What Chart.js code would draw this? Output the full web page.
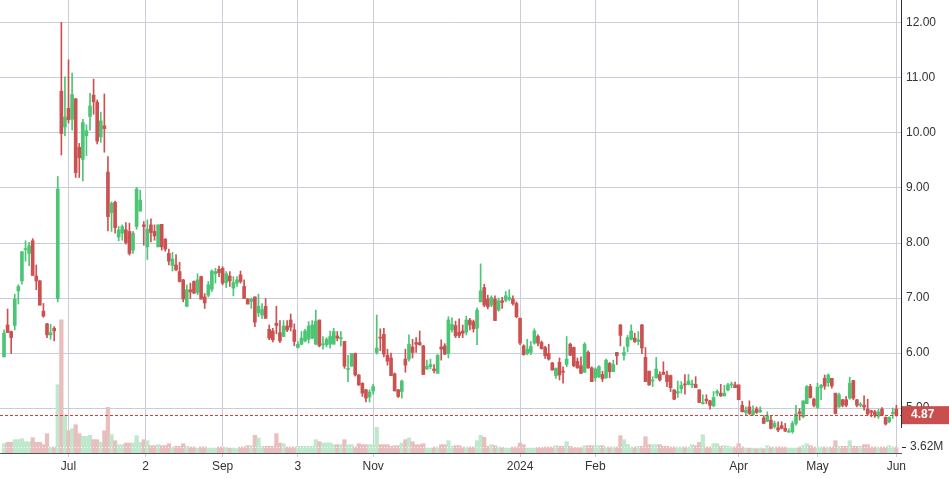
<!DOCTYPE html>
<html>
<head>
<meta charset="utf-8">
<script src="https://cdn.jsdelivr.net/npm/chart.js@4.4.1/dist/chart.umd.min.js"></script>
<style>
  html, body { margin: 0; padding: 0; background: #fff; }
  #caja { width: 949px; height: 479px; }
</style>
</head>
<body>
<div id="caja"><canvas id="grafico"></canvas></div>
<script>
// daily candles, Jun 2023 - Jun 2024
const opens = [
  5.93, 6.51, 6.39, 6.50, 7.13, 7.31, 7.88, 7.81, 8.04, 7.40, 7.31, 6.76, 6.53, 6.33, 6.45, 6.99, 10.76, 10.11, 10.45, 10.25,
  10.62, 9.74, 9.52, 9.95, 10.30, 10.69, 10.56, 9.93, 10.13, 9.29, 8.55, 8.74, 8.11, 8.18, 8.24, 8.21, 7.87, 8.30, 8.58, 8.33,
  7.93, 8.33, 8.21, 7.93, 8.34, 8.07, 7.81, 7.59, 7.60, 7.48, 7.33, 6.85, 7.15, 7.30, 7.10, 7.39, 7.02, 7.05, 7.16, 7.44,
  7.52, 7.54, 7.28, 7.40, 7.18, 7.27, 7.42, 7.21, 6.98, 6.94, 7.02, 6.73, 6.69, 6.85, 6.43, 6.40, 6.54, 6.37, 6.30, 6.49,
  6.60, 6.42, 6.10, 6.16, 6.22, 6.25, 6.27, 6.16, 6.60, 6.15, 6.15, 6.16, 6.16, 6.31, 6.26, 6.21, 5.70, 5.76, 5.99, 5.60,
  5.45, 5.33, 5.20, 5.31, 6.01, 6.29, 6.34, 5.96, 5.91, 5.62, 5.33, 5.30, 5.89, 5.89, 6.11, 6.19, 6.19, 6.13, 5.71, 5.75,
  5.71, 5.63, 6.11, 6.13, 5.99, 6.42, 6.50, 6.38, 6.40, 6.38, 6.60, 6.57, 6.45, 6.93, 7.19, 6.98, 6.87, 6.98, 6.78, 6.95,
  6.96, 6.98, 6.98, 6.90, 6.63, 6.13, 5.99, 6.01, 6.18, 6.30, 6.19, 6.10, 5.99, 5.82, 5.59, 5.83, 5.67, 5.79, 6.16, 6.10,
  5.85, 5.77, 5.65, 6.01, 5.73, 5.55, 5.57, 5.61, 5.55, 5.81, 5.66, 6.01, 6.51, 5.96, 6.12, 6.25, 6.27, 6.21, 6.51, 5.92,
  5.67, 5.49, 5.55, 5.61, 5.65, 5.60, 5.59, 5.33, 5.27, 5.35, 5.43, 5.43, 5.42, 5.43, 5.33, 5.08, 5.16, 5.13, 5.04, 5.27,
  5.27, 5.22, 5.33, 5.42, 5.42, 5.42, 5.05, 4.92, 5.02, 4.88, 4.98, 4.93, 4.82, 4.76, 4.78, 4.66, 4.64, 4.68, 4.63, 4.56,
  4.57, 4.72, 4.93, 4.84, 5.08, 5.39, 5.16, 5.01, 5.37, 5.54, 5.46, 5.54, 5.27, 5.02, 5.15, 5.15, 5.18, 5.50, 5.15, 5.05,
  5.05, 4.98, 4.95, 4.93, 4.85, 4.98, 4.83, 4.75, 4.90, 4.98
];
const highs = [
  6.42, 6.80, 6.40, 7.07, 7.24, 7.85, 8.04, 8.01, 8.08, 7.60, 7.32, 6.90, 6.54, 6.52, 6.48, 9.21, 12.01, 11.02, 11.33, 11.09,
  10.63, 9.81, 10.25, 10.15, 10.72, 10.98, 10.60, 10.38, 10.71, 9.57, 8.75, 8.76, 8.30, 8.33, 8.37, 8.36, 8.21, 9.01, 8.96, 8.39,
  8.42, 8.44, 8.33, 8.33, 8.34, 8.08, 7.89, 7.83, 7.79, 7.65, 7.34, 7.24, 7.27, 7.31, 7.44, 7.40, 7.08, 7.30, 7.51, 7.54,
  7.58, 7.57, 7.48, 7.48, 7.39, 7.39, 7.49, 7.33, 6.99, 7.00, 7.02, 7.07, 6.90, 6.99, 6.51, 6.45, 6.85, 6.59, 6.59, 6.59,
  6.71, 6.53, 6.21, 6.39, 6.43, 6.57, 6.59, 6.78, 6.60, 6.30, 6.28, 6.40, 6.45, 6.39, 6.39, 6.21, 5.96, 5.99, 6.00, 5.61,
  5.46, 5.34, 5.33, 5.43, 6.69, 6.44, 6.45, 6.07, 6.00, 5.64, 5.34, 5.51, 6.07, 6.33, 6.25, 6.28, 6.40, 6.14, 5.87, 5.89,
  5.79, 5.97, 6.24, 6.17, 6.66, 6.64, 6.58, 6.62, 6.51, 6.67, 6.63, 6.60, 6.82, 7.62, 7.25, 7.05, 7.04, 7.04, 7.00, 7.01,
  7.12, 7.15, 7.04, 6.93, 6.64, 6.15, 6.25, 6.21, 6.44, 6.33, 6.22, 6.12, 6.16, 5.83, 5.73, 5.91, 5.75, 6.30, 6.18, 6.11,
  5.91, 5.93, 6.19, 6.04, 5.75, 5.73, 5.77, 5.67, 5.89, 5.83, 5.87, 6.01, 6.52, 6.11, 6.32, 6.51, 6.36, 6.39, 6.52, 6.10,
  5.67, 5.57, 5.92, 5.66, 5.84, 5.67, 5.60, 5.33, 5.49, 5.48, 5.61, 5.61, 5.51, 5.57, 5.33, 5.24, 5.24, 5.14, 5.30, 5.33,
  5.43, 5.41, 5.45, 5.47, 5.47, 5.42, 5.12, 5.02, 5.13, 5.04, 5.02, 5.02, 4.86, 4.93, 4.86, 4.76, 4.75, 4.75, 4.72, 4.62,
  4.76, 5.05, 4.99, 5.13, 5.41, 5.43, 5.18, 5.45, 5.43, 5.60, 5.62, 5.54, 5.27, 5.27, 5.16, 5.21, 5.56, 5.50, 5.16, 5.10,
  5.22, 5.16, 4.96, 4.96, 4.98, 5.01, 4.84, 4.84, 5.00, 5.05
];
const lows = [
  5.93, 6.37, 5.99, 6.42, 6.89, 7.25, 7.67, 7.59, 7.41, 7.15, 6.87, 6.65, 6.28, 6.25, 6.22, 6.93, 9.60, 9.95, 10.18, 10.05,
  9.19, 9.19, 9.13, 9.59, 10.05, 10.34, 9.80, 9.83, 9.65, 8.22, 8.21, 8.18, 8.04, 8.05, 7.98, 7.78, 7.81, 8.25, 8.58, 7.96,
  7.70, 8.02, 8.05, 7.93, 7.87, 7.85, 7.60, 7.49, 7.50, 7.29, 6.93, 6.84, 6.99, 7.08, 7.06, 6.98, 6.81, 7.02, 7.12, 7.27,
  7.39, 7.24, 7.19, 7.21, 7.04, 7.21, 7.27, 6.99, 6.89, 6.81, 6.48, 6.66, 6.63, 6.63, 6.24, 6.20, 6.35, 6.19, 6.30, 6.39,
  6.40, 6.13, 6.09, 6.15, 6.20, 6.18, 6.26, 6.15, 6.11, 6.07, 6.11, 6.09, 6.16, 6.22, 6.13, 5.72, 5.48, 5.76, 5.58, 5.41,
  5.21, 5.11, 5.11, 5.25, 5.98, 6.04, 5.93, 5.78, 5.59, 5.31, 5.19, 5.18, 5.65, 5.85, 5.91, 6.01, 6.14, 5.61, 5.70, 5.71,
  5.64, 5.63, 5.87, 5.97, 5.91, 6.38, 6.28, 6.28, 6.28, 6.33, 6.42, 6.38, 6.15, 6.93, 6.84, 6.80, 6.84, 6.59, 6.76, 6.81,
  6.93, 6.95, 6.87, 6.64, 6.15, 5.96, 5.97, 5.97, 6.16, 6.13, 6.07, 5.90, 5.87, 5.69, 5.54, 5.51, 5.45, 5.75, 5.95, 5.75,
  5.72, 5.63, 5.65, 5.72, 5.48, 5.49, 5.55, 5.48, 5.54, 5.55, 5.66, 5.79, 6.13, 5.87, 6.02, 6.24, 6.19, 6.15, 5.99, 5.48,
  5.41, 5.39, 5.54, 5.49, 5.61, 5.39, 5.30, 5.15, 5.19, 5.27, 5.25, 5.42, 5.37, 5.37, 5.10, 5.07, 5.08, 4.98, 5.02, 5.22,
  5.21, 5.22, 5.31, 5.37, 5.37, 5.15, 4.93, 4.88, 4.88, 4.86, 4.90, 4.92, 4.72, 4.75, 4.62, 4.63, 4.57, 4.62, 4.57, 4.56,
  4.54, 4.69, 4.78, 4.82, 5.08, 5.18, 5.02, 4.99, 5.15, 5.34, 5.39, 5.36, 4.89, 5.01, 5.02, 5.02, 5.16, 5.15, 5.02, 5.02,
  4.96, 4.87, 4.84, 4.83, 4.81, 4.87, 4.69, 4.73, 4.81, 4.85
];
const closes = [
  6.36, 6.37, 6.28, 6.98, 7.21, 7.84, 7.89, 7.95, 7.41, 7.31, 6.87, 6.67, 6.33, 6.37, 6.40, 8.98, 9.99, 10.29, 10.24, 10.70,
  9.28, 9.55, 10.19, 10.04, 10.49, 10.57, 9.85, 10.22, 10.08, 8.48, 8.72, 8.28, 8.24, 8.30, 8.01, 7.81, 8.18, 8.98, 8.78, 8.30,
  8.25, 8.19, 8.13, 8.33, 7.93, 7.89, 7.67, 7.71, 7.51, 7.30, 6.98, 7.15, 7.11, 7.09, 7.33, 6.98, 6.91, 7.24, 7.49, 7.48,
  7.46, 7.27, 7.44, 7.31, 7.28, 7.33, 7.30, 6.99, 6.89, 6.98, 6.56, 6.85, 6.79, 6.63, 6.27, 6.24, 6.50, 6.22, 6.49, 6.42,
  6.47, 6.21, 6.16, 6.27, 6.40, 6.49, 6.51, 6.58, 6.13, 6.16, 6.25, 6.30, 6.39, 6.27, 6.28, 5.76, 5.71, 5.99, 5.60, 5.42,
  5.27, 5.18, 5.29, 5.39, 6.09, 6.27, 5.98, 5.85, 5.59, 5.31, 5.21, 5.49, 5.78, 6.16, 6.01, 6.16, 6.15, 5.61, 5.76, 5.79,
  5.68, 5.96, 6.07, 5.98, 6.60, 6.52, 6.31, 6.32, 6.36, 6.60, 6.51, 6.44, 6.78, 7.13, 6.87, 6.84, 7.01, 6.59, 6.95, 6.92,
  7.04, 7.01, 6.90, 6.66, 6.18, 5.97, 6.07, 6.12, 6.40, 6.18, 6.08, 5.95, 5.89, 5.69, 5.72, 5.60, 5.65, 5.89, 5.96, 5.77,
  5.73, 5.63, 6.16, 5.73, 5.48, 5.71, 5.75, 5.53, 5.87, 5.66, 5.79, 5.95, 6.32, 6.01, 6.28, 6.40, 6.21, 6.24, 6.09, 5.48,
  5.42, 5.51, 5.71, 5.51, 5.61, 5.48, 5.37, 5.16, 5.30, 5.41, 5.42, 5.49, 5.43, 5.37, 5.10, 5.10, 5.13, 5.05, 5.19, 5.30,
  5.22, 5.27, 5.42, 5.43, 5.37, 5.15, 4.93, 4.96, 4.90, 4.95, 4.92, 4.96, 4.72, 4.86, 4.63, 4.72, 4.60, 4.63, 4.58, 4.57,
  4.72, 4.89, 4.90, 5.13, 5.39, 5.19, 5.05, 5.38, 5.41, 5.40, 5.60, 5.40, 4.90, 5.24, 5.05, 5.05, 5.45, 5.18, 5.05, 5.07,
  5.02, 4.89, 4.92, 4.87, 4.93, 4.87, 4.71, 4.83, 4.92, 4.87
];
// volume in millions
const volumes = [
  5.6, 6.4, 6.4, 8.0, 8.0, 8.6, 6.8, 6.8, 9.2, 6.4, 6.4, 5.0, 11.6, 3.6, 3.6, 41, 80, 23, 13.4, 14.6,
  17, 11.6, 10, 10, 10.6, 8, 8, 6.4, 13.4, 27.4, 11, 7.4, 5, 5, 6, 6, 6, 10.4, 6.4, 8,
  7.4, 4.4, 4.4, 5, 4.4, 4.4, 5.6, 3.6, 4.0, 4.0, 5.6, 4.0, 3.6, 3.6, 3.0, 3.6, 3.6, 3.0, 3.0, 3.0,
  3.6, 3.6, 3.3, 3.0, 3.0, 2.6, 3.6, 3.6, 4.4, 4.4, 10.6, 9.0, 4.0, 4.0, 4.0, 4.0, 11.6, 6.0, 5.6, 3.6,
  3.6, 3.6, 4.0, 4.0, 4.0, 4.0, 4.0, 8.0, 6.8, 6.0, 6.0, 6.0, 5.0, 5.0, 5.0, 8.0, 5.0, 5.0, 3.6, 5.6,
  5.0, 5.0, 5.0, 5.0, 15.4, 5.0, 5.0, 5.0, 4.0, 4.4, 4.4, 6.0, 8.0, 9.0, 6.8, 5.0, 5.0, 5.6, 3.0, 3.0,
  3.6, 3.6, 5.0, 5.0, 7.4, 4.0, 4.4, 4.4, 3.6, 3.6, 3.6, 3.6, 7.4, 10.6, 9.4, 4.0, 5.0, 4.4, 3.6, 3.3,
  3.0, 3.0, 3.6, 3.6, 6.0, 5.0, 3.0, 3.0, 3.0, 3.3, 3.3, 3.6, 3.6, 3.6, 4.4, 4.0, 4.0, 6.8, 4.0, 3.3,
  3.3, 3.3, 4.4, 4.4, 4.4, 4.4, 4.4, 4.4, 3.6, 3.6, 3.6, 3.6, 10.4, 8.0, 5.2, 3.6, 3.6, 4.0, 4.0, 9.8,
  5.0, 5.0, 5.0, 5.0, 4.0, 4.0, 3.6, 3.6, 3.6, 3.6, 3.6, 3.6, 5.0, 4.4, 6.4, 11.0, 3.6, 3.6, 5.6, 5.6,
  4.0, 4.4, 4.0, 3.6, 3.6, 5.6, 3.6, 3.0, 3.0, 3.0, 2.6, 3.0, 2.6, 4.4, 3.6, 3.6, 3.6, 3.6, 3.6, 3.0,
  3.0, 3.0, 3.6, 4.4, 5.6, 4.4, 3.6, 3.6, 3.6, 3.6, 3.6, 3.6, 7.4, 4.0, 4.0, 4.0, 7.4, 4.0, 4.0, 4.0,
  5.0, 5.0, 3.6, 3.6, 3.6, 3.6, 3.6, 4.4, 3.6, 3.62
];
// x axis: candle index where each label sits
const tickIndex = [18, 39.5, 61, 82, 103, 144, 165, 205, 227, 249];
const tickText = ['Jul', '2', 'Sep', '3', 'Nov', '2024', 'Feb', 'Apr', 'May', 'Jun'];
const priceTicks = [5, 6, 7, 8, 9, 10, 11, 12];

const verde = '#4cc675';
const rojo = '#cc5151';
const verdeVol = '#bfe8cc';
const rojoVol = '#e9bebe';
const fuente = "'Liberation Sans', Arial, sans-serif";

const sube = closes.map((c, i) => c >= opens[i]);

// etiquetas del eje derecho, linea del ultimo precio
const marcas = {
    id: 'marcas',
    afterDraw(chart) {
        const { ctx, chartArea, scales } = chart;
        const ultimo = closes[closes.length - 1];
        const ultVol = volumes[volumes.length - 1];
        const yP = scales.y.getPixelForValue(ultimo);
        const yV = scales.yv.getPixelForValue(ultVol);
        const der = chartArea.right;
        ctx.save();
        // linea de volumen
        ctx.strokeStyle = 'rgba(255,255,255,0.9)';
        ctx.setLineDash([1, 2]);
        ctx.lineWidth = 1;
        ctx.beginPath();
        ctx.moveTo(chartArea.left, Math.round(yV) + 0.5);
        ctx.lineTo(der, Math.round(yV) + 0.5);
        ctx.stroke();
        // linea de precio
        ctx.strokeStyle = '#dc3a3a';
        ctx.setLineDash([3, 2]);
        ctx.beginPath();
        ctx.moveTo(chartArea.left, Math.round(yP) + 0.5);
        ctx.lineTo(der, Math.round(yP) + 0.5);
        ctx.stroke();
        ctx.setLineDash([]);
        // borde del eje de precio
        ctx.strokeStyle = '#2b2b2b';
        ctx.beginPath();
        ctx.moveTo(der + 0.5, chartArea.top);
        ctx.lineTo(der + 0.5, yV - 19);
        ctx.stroke();
        // caja del ultimo precio
        ctx.fillStyle = '#c94f4f';
        ctx.fillRect(der + 1, yP - 9, chart.width - der, 18);
        ctx.fillStyle = '#ffffff';
        ctx.font = 'bold 12px ' + fuente;
        ctx.textAlign = 'left';
        ctx.textBaseline = 'middle';
        ctx.fillText(ultimo.toFixed(2), der + 10, yP);
        // volumen actual
        ctx.strokeStyle = '#2b2b2b';
        ctx.beginPath();
        ctx.moveTo(der + 1, Math.round(yV) + 0.5);
        ctx.lineTo(der + 5, Math.round(yV) + 0.5);
        ctx.stroke();
        ctx.fillStyle = '#333333';
        ctx.font = '12px ' + fuente;
        ctx.fillText(ultVol.toFixed(2) + 'M', der + 9, yV);
        ctx.restore();
    }
};

const datos = {
    datasets: [
        {
            label: 'Volumen',
            data: volumes.map((v, i) => ({ x: i, y: v })),
            yAxisID: 'yv',
            backgroundColor: sube.map(s => s ? verdeVol : rojoVol),
            barPercentage: 1,
            categoryPercentage: 1,
            grouped: false,
            order: 3
        },
        {
            label: 'Mechas',
            data: lows.map((l, i) => ({ x: i, y: [l, highs[i]] })),
            yAxisID: 'y',
            backgroundColor: sube.map(s => s ? verde : rojo),
            barThickness: 1,
            grouped: false,
            order: 2
        },
        {
            label: 'Cuerpos',
            data: opens.map((o, i) => ({ x: i, y: [o, closes[i]] })),
            yAxisID: 'y',
            backgroundColor: sube.map(s => s ? verde : rojo),
            barThickness: 3,
            minBarLength: 1,
            grouped: false,
            order: 1
        }
    ]
};

const config = {
    type: 'bar',
    data: datos,
    options: {
        responsive: true,
        maintainAspectRatio: false,
        animation: false,
        layout: { padding: 0 },
        plugins: {
            legend: { display: false },
            tooltip: { enabled: false }
        },
        scales: {
            x: {
                type: 'linear',
                min: -1.12,
                max: 250.3,
                offset: false,
                afterBuildTicks: s => { s.ticks = tickIndex.map(v => ({ value: v })); },
                afterFit: s => { s.height = 26; s.paddingLeft = 0; s.paddingRight = 0; },
                grid: { color: '#c8cdd9', tickLength: 4, offset: false },
                border: { display: true, color: '#555555' },
                ticks: {
                    autoSkip: false,
                    maxRotation: 0,
                    padding: 2,
                    color: '#333333',
                    font: { size: 12, family: fuente },
                    callback: v => tickText[tickIndex.indexOf(v)]
                }
            },
            y: {
                position: 'right',
                min: 4.182,
                max: 12.418,
                afterBuildTicks: s => { s.ticks = priceTicks.map(v => ({ value: v })); },
                afterFit: s => { s.width = 48; s.paddingTop = 0; s.paddingBottom = 0; },
                grid: { color: '#c8cdd9', drawTicks: false },
                border: { display: false },
                ticks: {
                    padding: 5,
                    color: '#333333',
                    font: { size: 12, family: fuente },
                    callback: v => v.toFixed(2)
                }
            },
            yv: {
                position: 'right',
                display: false,
                min: 0,
                max: 272
            }
        }
    },
    plugins: [marcas]
};

const migrafico = document.getElementById('grafico');
new Chart(migrafico, config);
</script>
</body>
</html>
